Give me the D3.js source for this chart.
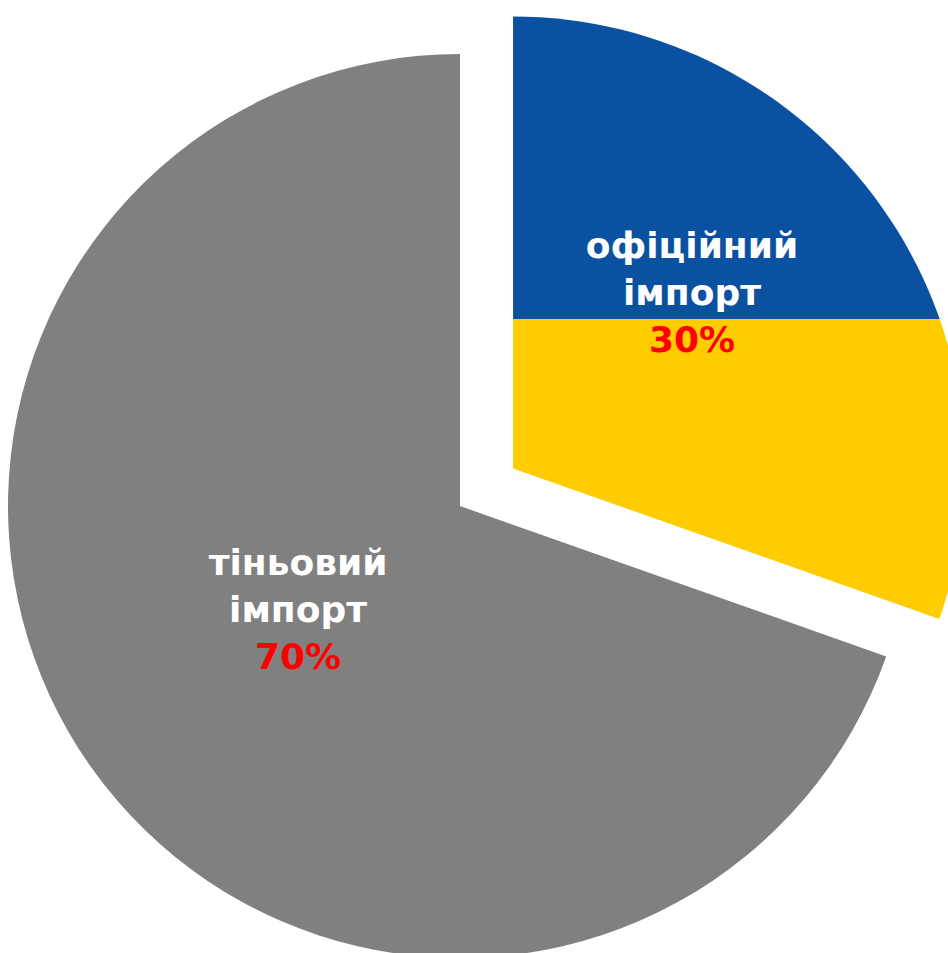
<!DOCTYPE html>
<html lang="uk">
<head>
  <meta charset="utf-8">
  <title>Імпорт</title>
  <script src="https://d3js.org/d3.v7.min.js"></script>
  <style>
    body { margin: 0; background: #fff; }
    .lbl { font-family: "DejaVu Sans", sans-serif; font-weight: bold; font-size: 36px; }
  </style>
</head>
<body>
<div id="chart"></div>
<script>
// data
const names = [["офіційний", "імпорт"], ["тіньовий", "імпорт"]];
const shares = [30.4, 69.6];

// layout
const width = 948, height = 953;
const cx = 460, cy = 506, radius = 452;
const explode = [65, 0];
const nudge = [[-24, -20], [41, -28]];
const splitY = 319;           // blue / yellow boundary (page y)
const lineGap = 47;

const svg = d3.select("#chart")
  .append("svg")
    .attr("width", width)
    .attr("height", height);

const pie = d3.pie().sort(null).value(d => d);
const arcs = pie(shares);

const arc = d3.arc().innerRadius(0).outerRadius(radius);

// offset of each slice along its bisector
const offsets = arcs.map((a, i) => {
  const m = (a.startAngle + a.endAngle) / 2;
  return [cx + explode[i] * Math.sin(m), cy - explode[i] * Math.cos(m)];
});

// flag fill for the official slice, hard edge at splitY
const gy = splitY - offsets[0][1];
const grad = svg.append("defs").append("linearGradient")
  .attr("id", "flag")
  .attr("gradientUnits", "userSpaceOnUse")
  .attr("x1", 0).attr("x2", 0)
  .attr("y1", gy - 1).attr("y2", gy + 1);
grad.append("stop").attr("offset", 0.5).attr("stop-color", "#0b51a1");
grad.append("stop").attr("offset", 0.5).attr("stop-color", "#ffcc00");

const fills = ["url(#flag)", "#808080"];

const g = svg.selectAll("g.slice")
  .data(arcs)
  .join("g")
    .attr("class", "slice")
    .attr("transform", (d, i) => `translate(${offsets[i][0]},${offsets[i][1]})`);

g.append("path")
  .attr("d", arc)
  .attr("fill", (d, i) => fills[i]);

// labels
const labelArc = d3.arc().innerRadius(radius * 0.55).outerRadius(radius * 0.55);
const total = d3.sum(shares);

const lbl = g.append("text")
  .attr("class", "lbl")
  .attr("text-anchor", "middle")
  .attr("transform", (d, i) => {
    const c = labelArc.centroid(d);
    return `translate(${c[0] + nudge[i][0]},${c[1] + nudge[i][1]})`;
  });

lbl.append("tspan")
  .attr("x", 0).attr("y", -lineGap)
  .attr("fill", "#fff")
  .text((d, i) => names[i][0]);
lbl.append("tspan")
  .attr("x", 0).attr("y", 0)
  .attr("fill", "#fff")
  .text((d, i) => names[i][1]);
lbl.append("tspan")
  .attr("x", 0).attr("y", lineGap)
  .attr("fill", "#ff0000")
  .text(d => Math.round(d.value / total * 100) + "%");
</script>
</body>
</html>
